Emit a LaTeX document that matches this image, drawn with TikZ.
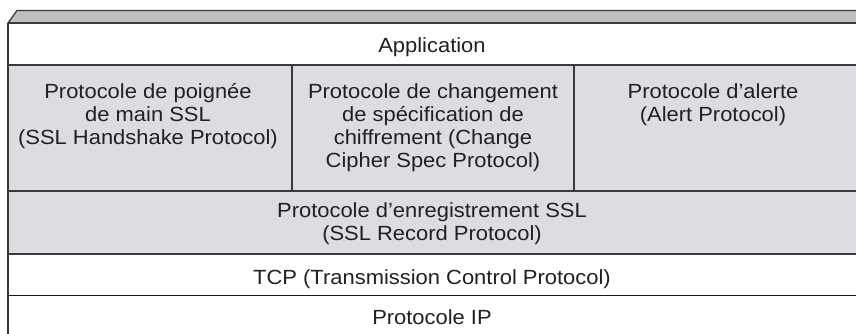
\documentclass[tikz,border=0pt]{standalone}
\usepackage{fontspec}
\setmainfont[FakeStretch=1.07]{Liberation Sans}
\definecolor{stripgray}{HTML}{BDBEC0}
\definecolor{cellgray}{HTML}{DCDDE0}
\definecolor{linegray}{HTML}{3A3A3A}
\definecolor{txt}{HTML}{231F20}
\begin{document}
\begin{tikzpicture}[x=1pt,y=-1pt,
  rule/.style={draw=linegray,line width=1.3pt},
  heavyrule/.style={draw=black!90,line width=1.8pt},
  lbl/.style={inner sep=0pt,align=center,text=txt,font=\fontsize{20.5}{23.3}\selectfont,anchor=north},
  lblbase/.style={lbl,anchor=base}]
\useasboundingbox (0,0) rectangle (856,333);
\clip (0,0) rectangle (856,333);
% fills
\fill[stripgray] (17,10.5) -- (857,10.5) -- (857,23) -- (8,23) -- cycle;
\fill[cellgray] (8,65) rectangle (857,254);
% strip outline
\draw[rule] (8,23) -- (17,10.5) -- (857,10.5);
% horizontal rules
\draw[rule] (8,23) -- (857,23);
\draw[rule] (8,65) -- (857,65);
\draw[rule] (8,191) -- (857,191);
\draw[rule] (8,254) -- (857,254);
\draw[heavyrule] (8,295.5) -- (857,295.5);
% verticals
\draw[rule] (8,23) -- (8,334);
\draw[rule] (292,65) -- (292,191);
\draw[rule] (574,65) -- (574,191);
% labels
\node[lblbase] (app) at (432,52.5) {Application};
\node[lbl] (hs) at (148,83) {Protocole de poignée\\de main SSL\\(SSL Handshake Protocol)};
\node[lbl] (ccs) at (433,83) {Protocole de changement\\de spécification de\\chiffrement (Change\\Cipher Spec Protocol)};
\node[lbl] (al) at (713,83) {Protocole d’alerte\\(Alert Protocol)};
\node[lbl] (rec) at (432,202) {Protocole d’enregistrement SSL\\(SSL Record Protocol)};
\node[lblbase] (tcp) at (432,284) {TCP (Transmission Control Protocol)};
\node[lblbase] (ip) at (432,324.5) {Protocole IP};
\end{tikzpicture}
\end{document}
